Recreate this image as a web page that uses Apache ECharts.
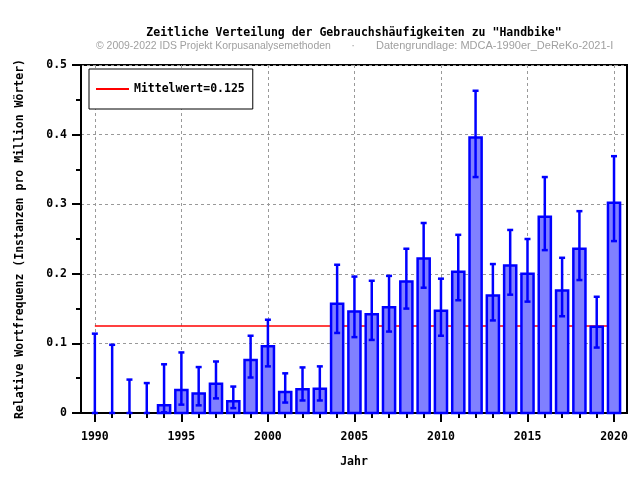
<!DOCTYPE html>
<html><head><meta charset="utf-8">
<script src="https://cdn.jsdelivr.net/npm/echarts@6/dist/echarts.min.js"></script>
<style>html,body{margin:0;padding:0;background:#fff}#c{width:640px;height:480px}</style>
</head><body><div id="c"></div>
<script>
const years = [1990,1991,1992,1993,1994,1995,1996,1997,1998,1999,2000,2001,2002,2003,2004,2005,2006,2007,2008,2009,2010,2011,2012,2013,2014,2015,2016,2017,2018,2019,2020];
const values = [0,0,0,0,0.011,0.033,0.028,0.042,0.017,0.076,0.096,0.030,0.034,0.035,0.157,0.146,0.142,0.152,0.189,0.222,0.147,0.203,0.396,0.169,0.212,0.200,0.282,0.176,0.236,0.124,0.302];
const upper = [0.114,0.098,0.048,0.043,0.070,0.087,0.066,0.074,0.038,0.111,0.134,0.057,0.0655,0.067,0.213,0.196,0.190,0.197,0.236,0.273,0.193,0.256,0.463,0.214,0.263,0.250,0.339,0.223,0.290,0.167,0.369];
const lower = [0,0,0,0,0.001,0.012,0.011,0.021,0.007,0.051,0.067,0.015,0.018,0.018,0.115,0.109,0.105,0.117,0.150,0.180,0.111,0.162,0.339,0.133,0.170,0.160,0.234,0.139,0.191,0.094,0.247];
const meanValue = 0.125;
const meanLabel = 'Mittelwert=0.125';
const xMajorTicks = [1990,1995,2000,2005,2010,2015,2020];
const titleText = 'Zeitliche Verteilung der Gebrauchshäufigkeiten zu "Handbike"';
const subLeft = '© 2009-2022 IDS Projekt Korpusanalysemethoden';
const subDot = '·';
const subRight = 'Datengrundlage: MDCA-1990er_DeReKo-2021-I';
const xName = 'Jahr';
const yName = 'Relative Wortfrequenz (Instanzen pro Million Wörter)';

const MONO = '"DejaVu Sans Mono", monospace';
const SANS = '11px "Liberation Sans", Arial, sans-serif';
const txt = {fontFamily: MONO, fontWeight: 'bold', fontSize: 11.5, color: '#000'};
const halfW = 0.35;
const blue = '#0000ff';

const chart = echarts.init(document.getElementById('c'), null, {renderer: 'canvas'});
const barData = years.map((y, i) => [y, values[i], lower[i], upper[i]]);

chart.setOption({
  animation: false,
  backgroundColor: '#fff',
  grid: {left: 81, top: 65, right: 13, bottom: 67, show: true, borderColor: '#000', borderWidth: 2, backgroundColor: 'transparent'},
  graphic: [
    {type: 'text', style: {x: 354, y: 33, text: titleText, textAlign: 'center', textVerticalAlign: 'middle', font: 'bold 11.5px ' + MONO, fill: '#000'}},
    {type: 'text', x: 96, y: 46, scaleX: 0.95, style: {x: 0, y: 0, text: subLeft, textAlign: 'left', textVerticalAlign: 'middle', font: SANS, fill: '#a0a0a0'}},
    {type: 'text', style: {x: 353, y: 46, text: subDot, textAlign: 'center', textVerticalAlign: 'middle', font: SANS, fill: '#a0a0a0'}},
    {type: 'text', style: {x: 376, y: 46, text: subRight, textAlign: 'left', textVerticalAlign: 'middle', font: SANS, fill: '#a0a0a0'}}
  ],
  legend: {
    data: [{name: meanLabel, icon: 'rect'}], left: 89, top: 69, orient: 'horizontal',
    padding: [14, 8, 14, 7], borderColor: '#000', borderWidth: 1, backgroundColor: '#fff',
    itemWidth: 33, itemHeight: 2, itemGap: 6, textStyle: txt,
    itemStyle: {color: '#ff0000', borderWidth: 0},
    selectedMode: false
  },
  xAxis: [
    {
      type: 'value', min: 1989.2, max: 2020.75, position: 'bottom',
      name: xName, nameLocation: 'middle', nameGap: 43, nameTextStyle: txt,
      axisLine: {show: true, onZero: false, lineStyle: {color: '#000', width: 2}},
      axisTick: {show: true, customValues: xMajorTicks, length: 9, lineStyle: {color: '#000', width: 2}},
      axisLabel: {show: true, customValues: xMajorTicks, margin: 18, formatter: v => String(v), fontFamily: MONO, fontWeight: 'bold', fontSize: 11.5, color: '#000'},
      splitLine: {show: true, lineStyle: {color: '#999', width: 1, type: [3, 3]}}
    },
    {
      type: 'value', min: 1989.2, max: 2020.75, position: 'bottom', gridIndex: 0,
      axisLine: {show: false},
      axisTick: {show: true, customValues: years, length: 5, lineStyle: {color: '#000', width: 2}},
      axisLabel: {show: false},
      splitLine: {show: false}
    }
  ],
  yAxis: {
    type: 'value', min: 0, max: 0.5, interval: 0.1,
    name: yName, nameLocation: 'middle', nameGap: 55, nameTextStyle: txt,
    axisLine: {show: true, lineStyle: {color: '#000', width: 2}},
    axisTick: {show: true, length: 9, lineStyle: {color: '#000', width: 2}},
    minorTick: {show: true, splitNumber: 2, length: 5, lineStyle: {color: '#000', width: 2}},
    axisLabel: {margin: 14, fontFamily: MONO, fontWeight: 'bold', fontSize: 11.5, color: '#000', formatter: v => v === 0 ? '0' : v.toFixed(1)},
    splitLine: {show: true, lineStyle: {color: '#999', width: 1, type: [3, 3]}}
  },
  series: [
    {
      name: meanLabel, type: 'line', xAxisIndex: 0, z: 1, silent: true, symbol: 'none',
      color: '#ff0000', lineStyle: {color: '#ff0000', width: 1.5},
      data: [[years[0], meanValue], [years[years.length - 1], meanValue]]
    },
    {
      name: 'Frequenz', type: 'custom', xAxisIndex: 0, z: 3, silent: true,
      data: barData,
      renderItem: function (params, api) {
        const x = api.value(0), v = api.value(1), lo = api.value(2), hi = api.value(3);
        const children = [];
        if (v > 0) {
          const p0 = api.coord([x - halfW, v]);
          const p1 = api.coord([x + halfW, 0]);
          children.push({type: 'rect', shape: {x: p0[0], y: p0[1], width: p1[0] - p0[0], height: p1[1] - p0[1]},
            style: {fill: '#8080ff', stroke: blue, lineWidth: 2.5}});
        }
        const t = api.coord([x, hi]), b = api.coord([x, lo]);
        children.push({type: 'line', shape: {x1: t[0], y1: t[1], x2: b[0], y2: b[1]}, style: {stroke: blue, lineWidth: 2.5}});
        children.push({type: 'line', shape: {x1: t[0] - 3, y1: t[1], x2: t[0] + 3, y2: t[1]}, style: {stroke: blue, lineWidth: 2.5}});
        children.push({type: 'line', shape: {x1: b[0] - 3, y1: b[1], x2: b[0] + 3, y2: b[1]}, style: {stroke: blue, lineWidth: 2.5}});
        return {type: 'group', children: children};
      }
    }
  ]
});
</script>
</body></html>
